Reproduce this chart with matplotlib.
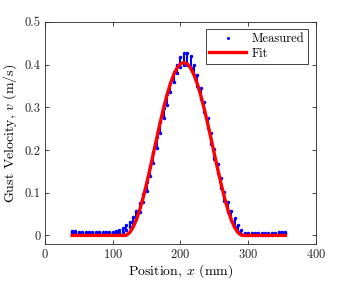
import numpy as np
import matplotlib
matplotlib.use("Agg")
import matplotlib.pyplot as plt

plt.rcParams['font.family'] = 'serif'
plt.rcParams['font.serif'] = ['cmr10']
plt.rcParams['mathtext.fontset'] = 'cm'
plt.rcParams['axes.formatter.use_mathtext'] = True

# measured gust velocity: each probe position shows a band of samples (low / high)
x_meas = [40, 45, 50, 55, 60, 65, 70, 75, 80, 85, 90, 95, 100, 105, 110, 115,
          120, 125, 130, 135, 140, 145, 150, 155, 160, 165, 170, 175, 180, 185,
          190, 195, 200, 205, 210, 215, 220, 225, 230, 235, 240, 245, 250, 255,
          260, 265, 270, 275, 280, 285, 290, 295, 300, 305, 310, 315, 320, 325,
          330, 335, 340, 345, 350, 355]
v_low = [0.006, 0.006, 0.005, 0.005, 0.005, 0.005, 0.005, 0.005, 0.005, 0.005,
         0.005, 0.005, 0.005, 0.005, 0.006, 0.009, 0.013, 0.019, 0.027, 0.039,
         0.055, 0.078, 0.105, 0.138, 0.170, 0.205, 0.240, 0.275, 0.305, 0.335,
         0.360, 0.380, 0.395, 0.400, 0.398, 0.392, 0.375, 0.350, 0.320, 0.290,
         0.252, 0.215, 0.180, 0.145, 0.112, 0.080, 0.055, 0.035, 0.020, 0.009,
         0.003, 0.001, 0.002, 0.002, 0.002, 0.002, 0.002, 0.002, 0.002, 0.002,
         0.003, 0.004, 0.004, 0.005]
v_high = [0.011, 0.010, 0.009, 0.009, 0.009, 0.009, 0.009, 0.009, 0.009, 0.009,
          0.009, 0.009, 0.009, 0.010, 0.013, 0.018, 0.024, 0.032, 0.042, 0.056,
          0.075, 0.098, 0.125, 0.160, 0.195, 0.230, 0.265, 0.298, 0.330, 0.358,
          0.382, 0.400, 0.418, 0.426, 0.428, 0.420, 0.398, 0.375, 0.345, 0.312,
          0.276, 0.240, 0.202, 0.168, 0.135, 0.102, 0.078, 0.056, 0.040, 0.025,
          0.012, 0.006, 0.005, 0.005, 0.005, 0.005, 0.005, 0.005, 0.005, 0.006,
          0.006, 0.007, 0.008, 0.009]

# fitted gust profile
x_fit = [40, 115, 118, 120, 125, 130, 135, 140, 145, 150, 155, 160, 165, 170,
         175, 180, 185, 190, 195, 200, 205, 210, 215, 220, 225, 230, 235, 240,
         245, 250, 255, 260, 265, 270, 275, 280, 285, 290, 292, 355]
v_fit = [0.0, 0.0, 0.0, 0.0005, 0.0064, 0.0187, 0.0370, 0.0606, 0.0888, 0.1208,
         0.1554, 0.1915, 0.2280, 0.2637, 0.2973, 0.3279, 0.3545, 0.3760, 0.3919,
         0.4017, 0.4050, 0.4017, 0.3919, 0.3760, 0.3545, 0.3279, 0.2973, 0.2637,
         0.2280, 0.1915, 0.1554, 0.1208, 0.0888, 0.0606, 0.0370, 0.0187, 0.0064,
         0.0005, 0.0, 0.0]

fig = plt.figure(figsize=(3.49, 2.84), dpi=100)
ax = fig.add_axes([0.129, 0.141, 0.776, 0.782])

ax.vlines(x_meas, v_low, v_high, color='blue', lw=1.5, zorder=2)
ax.plot(x_meas + x_meas, v_low + v_high, '.', color='blue', ms=3,
        label='Measured', zorder=2)
ax.plot(x_fit, v_fit, '-', color='red', lw=2.4, label='Fit', zorder=3)

ax.set_xlim(0, 400)
ax.set_ylim(-0.02, 0.5)
ax.set_xticks([0, 100, 200, 300, 400])
ax.set_yticks([0, 0.1, 0.2, 0.3, 0.4, 0.5])
ax.set_yticklabels(['0', '0.1', '0.2', '0.3', '0.4', '0.5'])
ax.tick_params(direction='in', length=3, width=0.6, top=True, right=True,
               labelsize=9, colors='0.15', pad=3)
for s in ax.spines.values():
    s.set_color('0.15')
    s.set_linewidth(0.6)

ax.set_xlabel('Position, $x$ (mm)', fontsize=10, labelpad=1)
ax.set_ylabel('Gust Velocity, $v$ (m/s)', fontsize=10, labelpad=4)

leg = ax.legend(loc='upper right', fontsize=9, fancybox=False, framealpha=1,
                edgecolor='0.15', handlelength=2.9, handletextpad=0.5,
                borderpad=0.3, labelspacing=0.2, borderaxespad=0.6,
                markerscale=0.8)
leg.get_frame().set_linewidth(0.6)

fig.savefig('out.png', dpi=100)
